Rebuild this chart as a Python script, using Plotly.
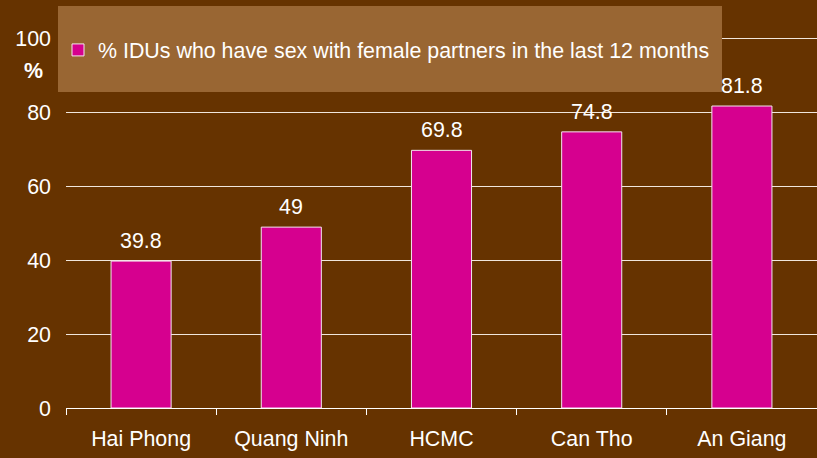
import plotly.graph_objects as go

categories = ["Hai Phong", "Quang Ninh", "HCMC", "Can Tho", "An Giang"]
values = [39.8, 49, 69.8, 74.8, 81.8]
value_labels = ["39.8", "49", "69.8", "74.8", "81.8"]
series_name = "% IDUs who have sex with female partners in the last 12 months"
y_ticks = [0, 20, 40, 60, 80, 100]

BG = "#663300"
BOX = "#996633"
BAR = "#D6008F"
FONT = "Liberation Sans, Arial, sans-serif"
FS = 21.4

fig = go.Figure()
fig.add_trace(go.Bar(
    x=categories, y=values, name=series_name,
    marker=dict(color=BAR, line=dict(color="#F4E6EE", width=1)),
    showlegend=True, hoverinfo="x+y",
))

for c, v, t in zip(categories, values, value_labels):
    fig.add_annotation(x=c, y=v, text=t, xref="x", yref="y",
                       showarrow=False, xanchor="center", yanchor="bottom",
                       yshift=6, font=dict(color="white", size=FS, family=FONT))

W, H = 817, 458
ml, mr, mt, mb = 66, 0, 37, 50
pw = W - ml - mr
ph = H - mt - mb

def px_x(p):
    return (p - ml) / pw

def px_y(p):
    return (H - mb - p) / ph

fig.add_shape(type="rect", xref="paper", yref="paper",
              x0=px_x(58), x1=px_x(722), y0=px_y(92), y1=px_y(6),
              fillcolor=BOX, line=dict(width=0), layer="above")

fig.add_annotation(text="<b>%</b>", xref="paper", yref="paper",
                   x=px_x(33), y=px_y(71), xanchor="center", yanchor="middle",
                   showarrow=False,
                   font=dict(color="white", size=FS, family=FONT))

fig.update_layout(
    width=W, height=H,
    margin=dict(l=ml, r=mr, t=mt, b=mb),
    paper_bgcolor=BG, plot_bgcolor=BG,
    bargap=0.6,
    font=dict(family=FONT, color="white", size=FS),
    legend=dict(x=px_x(58), xanchor="left", y=px_y(50), yanchor="middle",
                bgcolor="rgba(0,0,0,0)", borderwidth=0,
                font=dict(color="white", size=FS, family=FONT)),
    xaxis=dict(showline=True, linecolor="white", linewidth=1,
               ticks="outside", tickson="boundaries", ticklen=6,
               tickcolor="white", showgrid=False, ticklabelstandoff=11,
               tickfont=dict(color="white", size=FS, family=FONT)),
    yaxis=dict(range=[0, 100.5], tickvals=y_ticks, showgrid=True,
               gridcolor="#F0E6DC", gridwidth=1, zeroline=False,
               showline=False, ticks="", ticklabelstandoff=14,
               tickfont=dict(color="white", size=FS, family=FONT)),
)

fig.write_html("out.html", config={"displayModeBar": False},
               post_script="document.body.style.margin='0';document.body.style.padding='0';")
